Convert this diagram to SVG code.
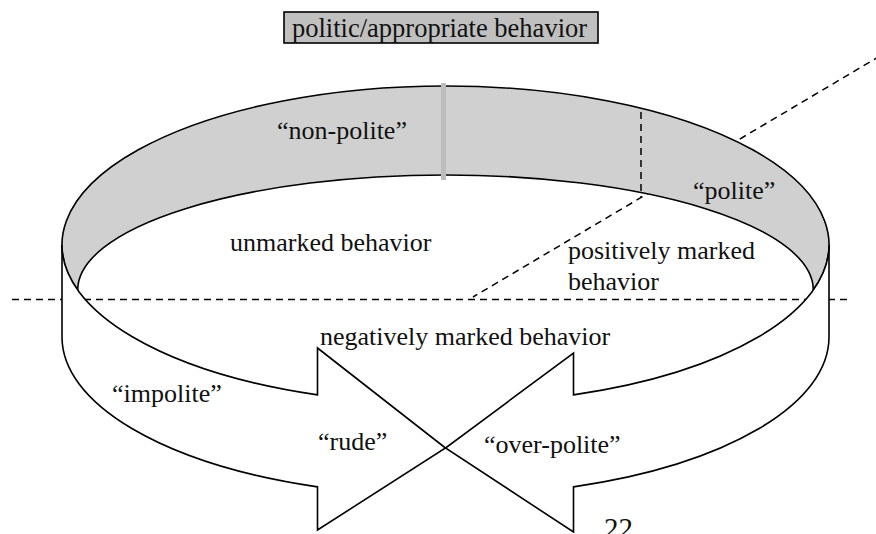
<svg xmlns="http://www.w3.org/2000/svg" width="876" height="534" viewBox="0 0 876 534">
<style>
.ln{fill:none;stroke:#000;stroke-width:1.6}
.dash{fill:none;stroke:#000;stroke-width:1.5;stroke-dasharray:7 5}
.band{fill:#d0d0d0;stroke:#000;stroke-width:1.6}
.arrow{fill:#fff;stroke:#000;stroke-width:1.6;stroke-linejoin:miter}
text{font-family:"Liberation Serif","Times New Roman",serif;font-size:26px;fill:#111}
</style>
<rect width="876" height="534" fill="#fff"/>
<g id="connectors">
<line class="dash" x1="12" y1="299.5" x2="850" y2="299.5"/>
<line class="dash" x1="880" y1="56" x2="473" y2="297"/>
</g>
<g id="top-band">
<path class="band" d="M77.7,290 A383.5,159 0 1 1 813.3,290 A367.8,115 0 0 0 77.7,290 Z"/>
<rect x="441" y="83" width="5" height="97" fill="#bdbdbd"/>
<line class="dash" x1="641" y1="112" x2="641" y2="198"/>
</g>
<g id="left-arrow">
<path class="arrow" d="M62,245 A383.5,159 0 0 0 317.5,394.9 L317.5,348 L445.5,448 L317.5,530 L317.5,486.9 A383.5,159 0 0 1 62,337 Z"/>
</g>
<g id="right-arrow">
<path class="arrow" d="M829,245 A383.5,159 0 0 1 573.5,394.9 L573.5,353 L445.5,448 L573.5,532 L573.5,486.9 A383.5,159 0 0 0 829,337 Z"/>
</g>
<g id="title">
<rect x="284" y="12" width="314" height="31" fill="#c0c0c0" stroke="#000" stroke-width="1.6"/>
<text x="292" y="37" style="font-size:26.5px">politic/appropriate behavior</text>
</g>
<g id="labels">
<text x="277" y="139">“non-polite”</text>
<text x="230" y="251">unmarked behavior</text>
<text x="693" y="199">“polite”</text>
<text x="568" y="259">positively marked</text>
<text x="568" y="290">behavior</text>
<text x="320" y="345">negatively marked behavior</text>
<text x="112" y="402">“impolite”</text>
<text x="318" y="450">“rude”</text>
<text x="484" y="453">“over-polite”</text>
<text x="604" y="538" style="font-size:29px">22</text>
</g>
</svg>
